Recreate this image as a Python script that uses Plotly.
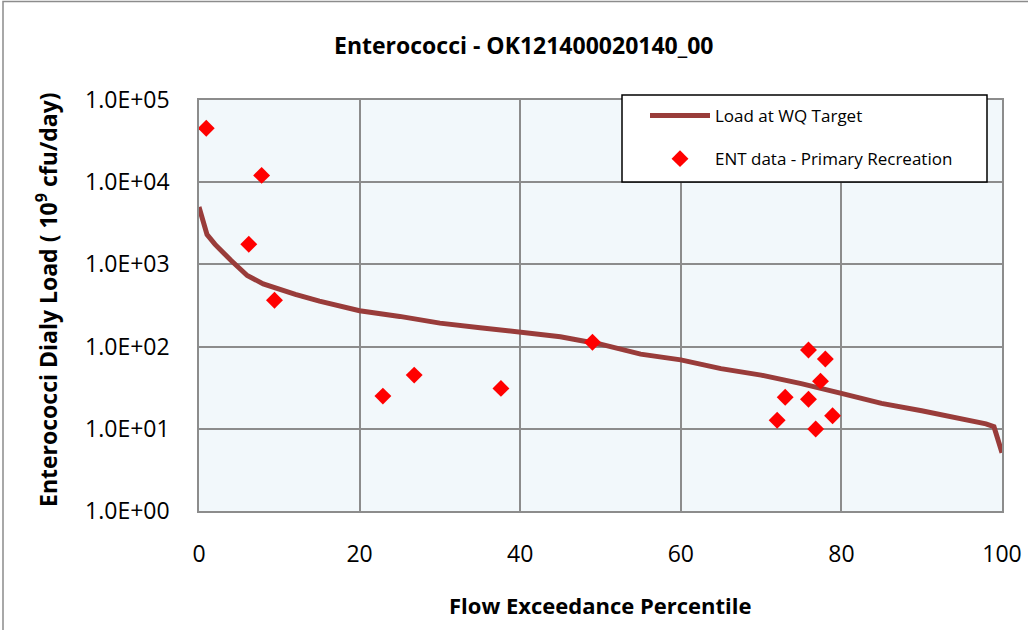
import plotly.graph_objects as go

# Load duration curve (Load at WQ Target)
curve_x = [0, 1, 2, 3, 4, 5, 6, 8, 10, 12, 15, 20, 25, 30, 35, 40, 45, 50, 55, 60,
           65, 70, 75, 80, 85, 90, 95, 98, 99, 100]
curve_y = [5000, 2300, 1750, 1365, 1115, 904, 733, 580, 493, 433, 357, 273, 233, 193, 170,
           151, 132, 107, 81, 69, 54, 45, 35.5, 27, 20.4, 16.6, 13.2, 11.5, 10.6, 5.1]

# ENT data - Primary Recreation
obs_x = [0.9, 7.8, 6.2, 9.4, 22.9, 26.8, 37.6, 49.0, 75.9, 78.0, 77.4, 73.0, 75.9, 78.9, 72.0, 76.8]
obs_y = [45300, 12100, 1760, 366, 25, 45, 31, 113, 91, 70.6, 38, 24.2, 22.9, 14.4, 12.7, 9.95]

y_tickvals = [1, 10, 100, 1000, 10000, 100000]
y_ticktext = ["1.0E+00", "1.0E+01", "1.0E+02", "1.0E+03", "1.0E+04", "1.0E+05"]
x_tickvals = [0, 20, 40, 60, 80, 100]

title_text = "Enterococci - OK121400020140_00"
x_title = "Flow Exceedance Percentile"
y_title = "Enterococci Dialy Load ( 10<sup>9</sup> cfu/day)"

FONT = "Open Sans"
W, H = 1028, 630
L, R, T, B = 199, 26, 100, 119
pw, ph = W - L - R, H - T - B

fig = go.Figure()
fig.add_trace(go.Scatter(
    x=curve_x, y=curve_y, mode="lines", name="Load at WQ Target",
    line=dict(color="#993C3A", width=5), legendgroup="a"))
fig.add_trace(go.Scatter(
    x=obs_x, y=obs_y, mode="markers", name="ENT data - Primary Recreation",
    marker=dict(symbol="diamond", color="#FF0000", size=13), legendgroup="b"))

def px2paper_x(px):
    return (px - L) / pw

def py2paper_y(py):
    return (H - B - py) / ph

fig.update_layout(
    width=W, height=H,
    margin=dict(l=L, r=R, t=T, b=B, autoexpand=False),
    paper_bgcolor="white",
    plot_bgcolor="#F2F8FB",
    font=dict(family=FONT, color="black"),
    showlegend=True,
    legend=dict(
        x=px2paper_x(645), y=py2paper_y(98), xanchor="left", yanchor="top",
        bgcolor="rgba(0,0,0,0)", borderwidth=0,
        font=dict(family=FONT, size=17, color="black"),
        tracegroupgap=18, itemwidth=60,
    ),
    xaxis=dict(
        range=[0, 100], tickvals=x_tickvals, showgrid=True, automargin=False,
        gridcolor="#8C8C8C", gridwidth=1.5,
        showline=True, linecolor="#8C8C8C", linewidth=1.5, mirror=True,
        ticks="", zeroline=False, ticklabelstandoff=22,
        tickfont=dict(family=FONT, size=23, color="black"),
    ),
    yaxis=dict(
        type="log", range=[0, 5], tickvals=y_tickvals, ticktext=y_ticktext,
        showgrid=True, gridcolor="#8C8C8C", gridwidth=1.5, automargin=False,
        showline=True, linecolor="#8C8C8C", linewidth=1.5, mirror=True,
        ticks="", zeroline=False, ticklabelstandoff=23,
        tickfont=dict(family=FONT, size=23, color="black"),
    ),
    shapes=[
        dict(type="rect", xref="paper", yref="paper",
             x0=px2paper_x(3), x1=px2paper_x(1040), y0=py2paper_y(645), y1=py2paper_y(1.5),
             line=dict(color="#8C8C8C", width=1.5), fillcolor="rgba(0,0,0,0)", layer="below"),
        dict(type="rect", xref="paper", yref="paper",
             x0=px2paper_x(622), x1=px2paper_x(987), y0=py2paper_y(182), y1=py2paper_y(95),
             line=dict(color="black", width=1.5), fillcolor="white", layer="above"),
    ],
    annotations=[
        dict(text="<b>" + title_text + "</b>", xref="paper", yref="paper",
             x=px2paper_x(524), y=py2paper_y(45), xanchor="center", yanchor="middle",
             showarrow=False, font=dict(family=FONT, size=23, color="black")),
        dict(text="<b>" + x_title + "</b>", xref="paper", yref="paper",
             x=px2paper_x(600), y=py2paper_y(605), xanchor="center", yanchor="middle",
             showarrow=False, font=dict(family=FONT, size=22, color="black")),
        dict(text="<b>" + y_title + "</b>", xref="paper", yref="paper",
             x=px2paper_x(47), y=py2paper_y(300), xanchor="center", yanchor="middle",
             textangle=-90, showarrow=False, font=dict(family=FONT, size=23, color="black")),
    ],
)

fig.write_html("out.html")
